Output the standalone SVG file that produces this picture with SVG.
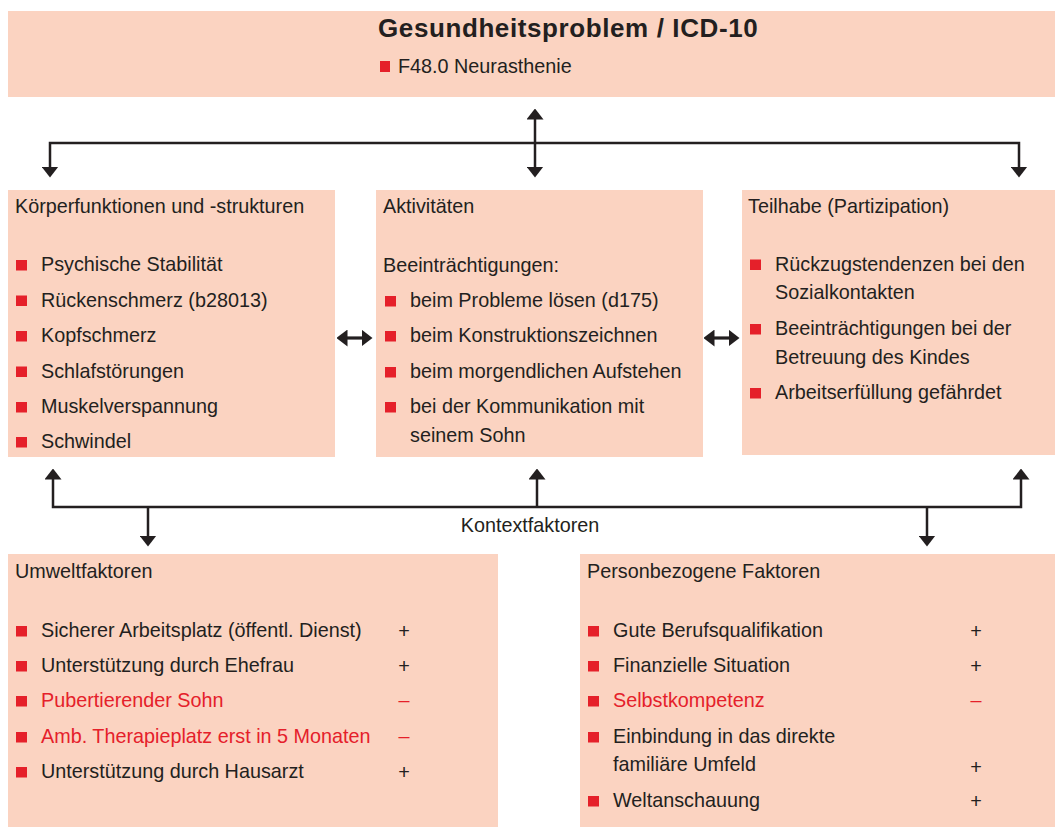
<svg xmlns="http://www.w3.org/2000/svg" width="1055" height="828" viewBox="0 0 1055 828">
<defs>
<style>
.box{fill:#fbd3c1}
.t{font-family:"Liberation Sans",Arial,sans-serif;font-size:19.8px;fill:#231f20}
.r{fill:#e5202a}
.b{fill:#e5202a}
.h{font-family:"Liberation Sans",Arial,sans-serif;font-size:26px;font-weight:bold;fill:#231f20;letter-spacing:0.6px}
.pm{text-anchor:middle}
.c{fill:none;stroke:#231f20;stroke-width:2.5}
.cs{fill:none;stroke:#231f20;stroke-width:3.2}
</style>
<marker id="ah" viewBox="0 0 11 17" refX="0.5" refY="8.5" markerWidth="11" markerHeight="17" markerUnits="userSpaceOnUse" orient="auto-start-reverse">
<path d="M0,0 L11,8.5 L0,17 Z" fill="#231f20"/>
</marker>
<marker id="ahs" viewBox="0 0 11 17" refX="0.5" refY="8.5" markerWidth="11" markerHeight="17" markerUnits="userSpaceOnUse" orient="auto-start-reverse">
<path d="M0,0 L11,8.5 L0,17 Z" fill="#231f20"/>
</marker>
</defs>
<rect width="1055" height="828" fill="#ffffff"/>

<g id="gesundheitsproblem">
<rect class="box" x="8" y="11" width="1047" height="86"/>
<text class="h" x="378" y="37">Gesundheitsproblem / ICD-10</text>
<rect class="b" x="380" y="61" width="10" height="11"/>
<text class="t" x="398" y="73">F48.0 Neurasthenie</text>
</g>

<g id="koerperfunktionen">
<rect class="box" x="8" y="190" width="327" height="267"/>
<text class="t" x="15" y="213">Körperfunktionen und -strukturen</text>
<rect class="b" x="16" y="260" width="11" height="10.5"/>
<text class="t" x="41" y="271">Psychische Stabilität</text>
<rect class="b" x="16" y="295.5" width="11" height="10.5"/>
<text class="t" x="41" y="306.5">Rückenschmerz (b28013)</text>
<rect class="b" x="16" y="331" width="11" height="10.5"/>
<text class="t" x="41" y="342">Kopfschmerz</text>
<rect class="b" x="16" y="366.5" width="11" height="10.5"/>
<text class="t" x="41" y="377.5">Schlafstörungen</text>
<rect class="b" x="16" y="402" width="11" height="10.5"/>
<text class="t" x="41" y="413">Muskelverspannung</text>
<rect class="b" x="16" y="437" width="11" height="10.5"/>
<text class="t" x="41" y="448">Schwindel</text>
</g>

<g id="aktivitaeten">
<rect class="box" x="376" y="190" width="327" height="267"/>
<text class="t" x="383" y="213">Aktivitäten</text>
<text class="t" x="383" y="272">Beeinträchtigungen:</text>
<rect class="b" x="385" y="296" width="11" height="10.5"/>
<text class="t" x="410" y="307">beim Probleme lösen (d175)</text>
<rect class="b" x="385" y="331" width="11" height="10.5"/>
<text class="t" x="410" y="342">beim Konstruktionszeichnen</text>
<rect class="b" x="385" y="367" width="11" height="10.5"/>
<text class="t" x="410" y="378">beim morgendlichen Aufstehen</text>
<rect class="b" x="385" y="402" width="11" height="10.5"/>
<text class="t" x="410" y="413">bei der Kommunikation mit</text>
<text class="t" x="410" y="442">seinem Sohn</text>
</g>

<g id="teilhabe">
<rect class="box" x="742" y="190" width="313" height="265"/>
<text class="t" x="748" y="213">Teilhabe (Partizipation)</text>
<rect class="b" x="750" y="259.5" width="11" height="10.5"/>
<text class="t" x="775" y="270.5">Rückzugstendenzen bei den</text>
<text class="t" x="775" y="299">Sozialkontakten</text>
<rect class="b" x="750" y="324" width="11" height="10.5"/>
<text class="t" x="775" y="335">Beeinträchtigungen bei der</text>
<text class="t" x="775" y="363.5">Betreuung des Kindes</text>
<rect class="b" x="750" y="388" width="11" height="10.5"/>
<text class="t" x="775" y="399">Arbeitserfüllung gefährdet</text>
</g>

<g id="umweltfaktoren">
<rect class="box" x="8" y="554" width="490" height="273"/>
<text class="t" x="15" y="578">Umweltfaktoren</text>
<rect class="b" x="16" y="626" width="11" height="10.5"/>
<text class="t" x="41" y="637">Sicherer Arbeitsplatz (öffentl. Dienst)</text>
<text class="t pm" x="404" y="638">+</text>
<rect class="b" x="16" y="661" width="11" height="10.5"/>
<text class="t" x="41" y="672">Unterstützung durch Ehefrau</text>
<text class="t pm" x="404" y="673">+</text>
<rect class="b" x="16" y="696" width="11" height="10.5"/>
<text class="t r" x="41" y="707">Pubertierender Sohn</text>
<text class="t r pm" x="404" y="707">–</text>
<rect class="b" x="16" y="732" width="11" height="10.5"/>
<text class="t r" x="41" y="743">Amb. Therapieplatz erst in 5 Monaten</text>
<text class="t r pm" x="404" y="743">–</text>
<rect class="b" x="16" y="767" width="11" height="10.5"/>
<text class="t" x="41" y="778">Unterstützung durch Hausarzt</text>
<text class="t pm" x="404" y="779">+</text>
</g>

<g id="personbezogene-faktoren">
<rect class="box" x="580" y="554" width="475" height="273"/>
<text class="t" x="587" y="578">Personbezogene Faktoren</text>
<rect class="b" x="588" y="626" width="11" height="10.5"/>
<text class="t" x="613" y="637">Gute Berufsqualifikation</text>
<text class="t pm" x="976" y="638">+</text>
<rect class="b" x="588" y="661" width="11" height="10.5"/>
<text class="t" x="613" y="672">Finanzielle Situation</text>
<text class="t pm" x="976" y="673">+</text>
<rect class="b" x="588" y="696" width="11" height="10.5"/>
<text class="t r" x="613" y="707">Selbstkompetenz</text>
<text class="t r pm" x="976" y="707">–</text>
<rect class="b" x="588" y="732" width="11" height="10.5"/>
<text class="t" x="613" y="743">Einbindung in das direkte</text>
<text class="t" x="613" y="771">familiäre Umfeld</text>
<text class="t pm" x="976" y="774">+</text>
<rect class="b" x="588" y="796" width="11" height="10.5"/>
<text class="t" x="613" y="807">Weltanschauung</text>
<text class="t pm" x="976" y="808">+</text>
</g>

<g id="connectors">
<path class="c" d="M535,167 L535,119" marker-start="url(#ah)" marker-end="url(#ah)"/>
<path class="c" d="M50,167 L50,143 L1019,143 L1019,167" marker-start="url(#ah)" marker-end="url(#ah)"/>
<path class="c" d="M53,479 L53,507 L1021,507 L1021,479" marker-start="url(#ah)" marker-end="url(#ah)"/>
<path class="c" d="M537,507 L537,479" marker-end="url(#ah)"/>
<path class="c" d="M148,507 L148,536" marker-end="url(#ah)"/>
<path class="c" d="M927,507 L927,536" marker-end="url(#ah)"/>
<path class="cs" d="M347,338 L362,338" marker-start="url(#ahs)" marker-end="url(#ahs)"/>
<path class="cs" d="M714,338 L729,338" marker-start="url(#ahs)" marker-end="url(#ahs)"/>
<text class="t" x="530" y="532" text-anchor="middle">Kontextfaktoren</text>
</g>
</svg>
